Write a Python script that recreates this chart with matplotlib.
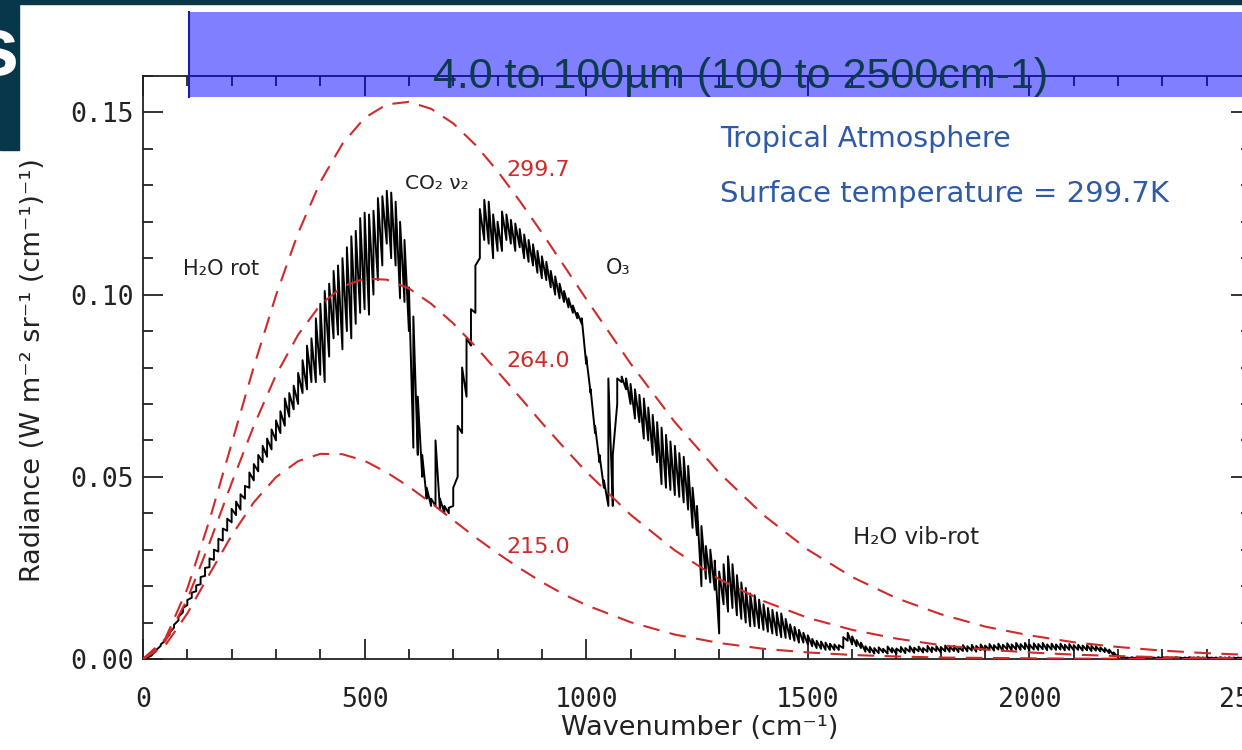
import matplotlib
matplotlib.use('Agg')
import matplotlib.pyplot as plt
import numpy as np
from matplotlib.patches import Rectangle
from matplotlib.lines import Line2D
from matplotlib.ticker import MultipleLocator

# outgoing spectrum, sampled every 10 cm-1; envelope of the line structure
wavenumber = np.arange(0, 2501, 10)
rad_hi = [
    0.0000, 0.0004, 0.0012, 0.0025, 0.0040, 0.0055, 0.0072, 0.0094, 0.0116, 0.0140,
    0.0162, 0.0182, 0.0202, 0.0225, 0.0250, 0.0276, 0.0300, 0.0330, 0.0358, 0.0385,
    0.0412, 0.0432, 0.0452, 0.0475, 0.0512, 0.0535, 0.0560, 0.0585, 0.0605, 0.0630,
    0.0655, 0.0680, 0.0715, 0.0730, 0.0750, 0.0785, 0.0820, 0.0860, 0.0880, 0.0935,
    0.0975, 0.1010, 0.1030, 0.1065, 0.1080, 0.1100, 0.1130, 0.1160, 0.1175, 0.1210,
    0.1225, 0.1220, 0.1230, 0.1265, 0.1270, 0.1285, 0.1280, 0.1255, 0.1200, 0.1150,
    0.1020, 0.0940, 0.0720, 0.0560, 0.0470, 0.0440, 0.0600, 0.0440, 0.0420, 0.0415,
    0.0470, 0.0640, 0.0800, 0.0880, 0.0960, 0.1080, 0.1235, 0.1260, 0.1255, 0.1220,
    0.1200, 0.1228, 0.1220, 0.1205, 0.1195, 0.1180, 0.1165, 0.1150, 0.1138, 0.1120,
    0.1105, 0.1090, 0.1065, 0.1050, 0.1030, 0.1010, 0.0990, 0.0970, 0.0950, 0.0935,
    0.0830, 0.0740, 0.0640, 0.0560, 0.0490, 0.0770, 0.0560, 0.0770, 0.0775, 0.0770,
    0.0755, 0.0740, 0.0725, 0.0715, 0.0690, 0.0670, 0.0650, 0.0635, 0.0615, 0.0597,
    0.0585, 0.0565, 0.0555, 0.0530, 0.0470, 0.0420, 0.0365, 0.0310, 0.0300, 0.0270,
    0.0240, 0.0260, 0.0282, 0.0260, 0.0230, 0.0210, 0.0195, 0.0180, 0.0175, 0.0163,
    0.0150, 0.0140, 0.0135, 0.0128, 0.0125, 0.0110, 0.0095, 0.0088, 0.0080, 0.0072,
    0.0065, 0.0055, 0.0050, 0.0048, 0.0045, 0.0042, 0.0040, 0.0038, 0.0060, 0.0072,
    0.0062, 0.0052, 0.0045, 0.0035, 0.0033, 0.0030, 0.0032, 0.0028, 0.0034, 0.0030,
    0.0029, 0.0033, 0.0030, 0.0035, 0.0031, 0.0034, 0.0030, 0.0036, 0.0032, 0.0035,
    0.0033, 0.0037, 0.0034, 0.0036, 0.0033, 0.0038, 0.0035, 0.0039, 0.0036, 0.0040,
    0.0037, 0.0041, 0.0038, 0.0042, 0.0039, 0.0043, 0.0040, 0.0044, 0.0041, 0.0044,
    0.0040, 0.0043, 0.0041, 0.0044, 0.0040, 0.0042, 0.0040, 0.0042, 0.0039, 0.0041,
    0.0038, 0.0039, 0.0037, 0.0038, 0.0036, 0.0035, 0.0032, 0.0030, 0.0026, 0.0018,
    0.0010, 0.0006, 0.0004, 0.0005, 0.0004, 0.0005, 0.0004, 0.0005, 0.0004, 0.0005,
    0.0004, 0.0005, 0.0004, 0.0005, 0.0004, 0.0004, 0.0005, 0.0004, 0.0005, 0.0004,
    0.0005, 0.0004, 0.0004, 0.0005, 0.0004, 0.0005, 0.0004, 0.0004, 0.0005, 0.0004,
    0.0004,
]
rad_lo = [
    0.0000, 0.0003, 0.0010, 0.0022, 0.0036, 0.0050, 0.0066, 0.0086, 0.0106, 0.0128,
    0.0148, 0.0168, 0.0186, 0.0205, 0.0228, 0.0252, 0.0272, 0.0295, 0.0325, 0.0352,
    0.0375, 0.0395, 0.0410, 0.0440, 0.0470, 0.0490, 0.0515, 0.0540, 0.0555, 0.0575,
    0.0600, 0.0620, 0.0640, 0.0665, 0.0685, 0.0700, 0.0730, 0.0740, 0.0760, 0.0760,
    0.0780, 0.0760, 0.0830, 0.0880, 0.0890, 0.0850, 0.0900, 0.0880, 0.0920, 0.0950,
    0.0960, 0.0945, 0.1000, 0.1040, 0.1080, 0.1140, 0.1100, 0.1080, 0.0990, 0.0980,
    0.0900, 0.0580, 0.0560, 0.0500, 0.0440, 0.0420, 0.0420, 0.0410, 0.0400, 0.0400,
    0.0420, 0.0500, 0.0620, 0.0720, 0.0860, 0.0950, 0.1100, 0.1150, 0.1140, 0.1100,
    0.1120, 0.1120, 0.1150, 0.1140, 0.1120, 0.1130, 0.1100, 0.1090, 0.1080, 0.1060,
    0.1045, 0.1040, 0.1020, 0.1000, 0.0990, 0.0980, 0.0965, 0.0950, 0.0935, 0.0920,
    0.0810, 0.0730, 0.0620, 0.0540, 0.0470, 0.0420, 0.0420, 0.0700, 0.0760, 0.0740,
    0.0700, 0.0660, 0.0650, 0.0605, 0.0600, 0.0560, 0.0540, 0.0480, 0.0470, 0.0464,
    0.0450, 0.0445, 0.0430, 0.0410, 0.0360, 0.0340, 0.0200, 0.0220, 0.0210, 0.0190,
    0.0070, 0.0150, 0.0130, 0.0140, 0.0120, 0.0110, 0.0100, 0.0090, 0.0090, 0.0085,
    0.0080, 0.0075, 0.0070, 0.0065, 0.0060, 0.0058, 0.0055, 0.0050, 0.0045, 0.0045,
    0.0040, 0.0035, 0.0030, 0.0028, 0.0025, 0.0025, 0.0025, 0.0025, 0.0030, 0.0050,
    0.0040, 0.0035, 0.0030, 0.0020, 0.0018, 0.0015, 0.0016, 0.0018, 0.0015, 0.0018,
    0.0014, 0.0019, 0.0016, 0.0020, 0.0017, 0.0021, 0.0018, 0.0020, 0.0019, 0.0022,
    0.0018, 0.0021, 0.0020, 0.0022, 0.0019, 0.0022, 0.0021, 0.0023, 0.0020, 0.0024,
    0.0022, 0.0025, 0.0023, 0.0026, 0.0022, 0.0027, 0.0024, 0.0026, 0.0025, 0.0027,
    0.0024, 0.0026, 0.0025, 0.0027, 0.0024, 0.0026, 0.0025, 0.0026, 0.0024, 0.0025,
    0.0024, 0.0025, 0.0023, 0.0024, 0.0022, 0.0023, 0.0021, 0.0019, 0.0016, 0.0010,
    0.0005, 0.0003, 0.0002, 0.0002, 0.0002, 0.0002, 0.0001, 0.0002, 0.0002, 0.0002,
    0.0002, 0.0002, 0.0001, 0.0002, 0.0002, 0.0001, 0.0002, 0.0002, 0.0002, 0.0001,
    0.0002, 0.0002, 0.0001, 0.0002, 0.0002, 0.0002, 0.0001, 0.0002, 0.0002, 0.0002,
    0.0002,
]

# blackbody reference curves
planck_wn = [0, 50, 100, 150, 200, 250, 300, 350, 400, 450, 500, 550, 600, 650, 700,
             750, 800, 850, 900, 950, 1000, 1100, 1200, 1300, 1400, 1500, 1600, 1700,
             1800, 1900, 2000, 2100, 2200, 2300, 2400, 2500]
planck_2997 = [0, .0055, .0193, .0381, .0591, .0802, .0998, .1169, .1309, .1414, .1485,
               .1522, .1529, .1510, .1470, .1411, .1339, .1257, .1170, .1079, .0988,
               .0811, .0650, .0511, .0395, .0300, .0225, .0167, .0123, .0089, .0065,
               .0046, .0033, .0023, .0016, .0011]
planck_2640 = [0, .0048, .0164, .0318, .0483, .0640, .0779, .0890, .0972, .1022, .1044,
               .1041, .1017, .0975, .0921, .0858, .0789, .0719, .0648, .0580, .0514,
               .0396, .0298, .0219, .0159, .0113, .0080, .0056, .0038, .0026, .0018,
               .0012, .0008, .0005, .0003, .0002]
planck_2150 = [0, .0037, .0125, .0233, .0339, .0430, .0499, .0543, .0563, .0562, .0544,
               .0512, .0473, .0428, .0381, .0334, .0290, .0249, .0211, .0177, .0148,
               .0101, .0067, .0044, .0028, .0018, .0011, .0007, .0004, .0003, .0002,
               .0001, .0001, 0, 0, 0]

x_ticks = [0, 500, 1000, 1500, 2000, 2500]
x_tick_labels = ['0', '500', '1000', '1500', '2000', '2500']
y_ticks = [0.0, 0.05, 0.10, 0.15]
y_tick_labels = ['0.00', '0.05', '0.10', '0.15']

W, H = 1242, 750
fig = plt.figure(figsize=(W / 100, H / 100), dpi=100)
fig.patch.set_facecolor('white')
ax = fig.add_axes([143 / W, (H - 659) / H, 1108 / W, 583 / H])

ink = '#222222'
red = '#d02a2a'
mono = 'DejaVu Sans Mono'

# spectrum: saw-tooth between the lower and upper envelope at every sample
xs = np.repeat(wavenumber, 2)
ys = np.column_stack([rad_lo, rad_hi]).ravel()
ax.plot(xs, ys, color='black', lw=1.4, zorder=2)

for curve in (planck_2997, planck_2640, planck_2150):
    ax.plot(planck_wn, curve, color=red, lw=1.5, dashes=(8, 5), zorder=3)

ax.set_xlim(0, 2500)
ax.set_ylim(0, 0.16)
ax.set_xticks(x_ticks, labels=x_tick_labels, fontfamily=mono)
ax.set_yticks(y_ticks, labels=y_tick_labels, fontfamily=mono)
ax.xaxis.set_minor_locator(MultipleLocator(100))
ax.yaxis.set_minor_locator(MultipleLocator(0.01))
ax.tick_params(which='both', direction='in', top=True, right=True,
               width=1.3, color=ink, labelcolor=ink, labelsize=19)
ax.tick_params(which='major', length=14.5)
ax.tick_params(which='minor', length=7)
ax.tick_params(axis='x', pad=20)
ax.tick_params(axis='y', pad=7)
for s in ax.spines.values():
    s.set_linewidth(1.3)
    s.set_color(ink)

ax.set_xlabel('Wavenumber (cm⁻¹)', fontsize=19.5, color=ink, va='center')
ax.xaxis.set_label_coords(0.5027, -0.1190)
ax.set_ylabel('Radiance (W m⁻² sr⁻¹ (cm⁻¹)⁻¹)', fontsize=19.5, color=ink, va='center')
ax.yaxis.set_label_coords(-0.0993, 0.4957)

# band labels
ax.text(90, 0.1069, 'H₂O rot', fontsize=15, color=ink, va='center')
ax.text(591, 0.1304, 'CO₂ ν₂', fontsize=14.5, color=ink, va='center')
ax.text(1045, 0.1072, 'O₃', fontsize=15, color=ink, va='center')
ax.text(1602, 0.0334, 'H₂O vib-rot', fontsize=16.5, color=ink, va='center')
# temperature labels for the dashed curves
ax.text(821, 0.1343, '299.7', fontsize=16, color=red, va='center')
ax.text(821, 0.0818, '264.0', fontsize=16, color=red, va='center')
ax.text(821, 0.0307, '215.0', fontsize=16, color=red, va='center')
blue = '#2f5aa8'
ax.text(1302, 0.1428, 'Tropical Atmosphere', fontsize=20.5, color=blue, va='center')
ax.text(1302, 0.1276, 'Surface temperature = 299.7K', fontsize=21, color=blue, va='center')

# slide decoration: dark header band, cut-off title letter, blue caption box
dark = '#08364b'
fig.patches.append(Rectangle((0, 1 - 4 / H), 1, 4 / H, transform=fig.transFigure,
                             color=dark, zorder=5))
fig.patches.append(Rectangle((0, 1 - 150 / H), 19 / W, 150 / H, transform=fig.transFigure,
                             color=dark, zorder=5))
fig.text(18 / W, 1 - 75 / H, 's', ha='right', va='baseline', color='white',
         fontsize=60, fontweight='bold', family='Liberation Sans', zorder=6)

fig.patches.append(Rectangle((189 / W, 1 - 97 / H), 1 - 189 / W + 0.01, 85 / H,
                             transform=fig.transFigure, facecolor='#0000ff',
                             alpha=0.5, lw=0, zorder=5))
fig.lines.append(Line2D([189 / W, 189 / W], [1 - 97 / H, 1 - 12 / H],
                        transform=fig.transFigure, color='#1d1d9c', lw=1.5, zorder=6))
fig.text(433 / W, 1 - 88 / H, '4.0 to 100µm (100 to 2500cm-1)', ha='left', va='baseline',
         fontsize=31, family='Liberation Sans', color='#0e3a4e', zorder=7)

fig.savefig('out.png', dpi=100)
